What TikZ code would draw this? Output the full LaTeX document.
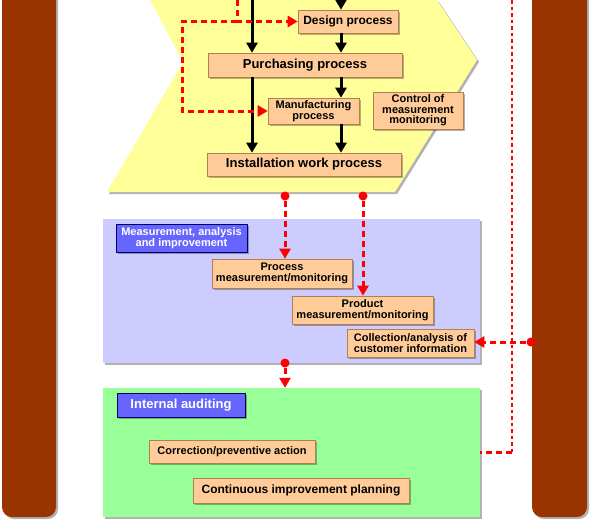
\documentclass[tikz,border=0pt]{standalone}
\usepackage{fontspec}
\setmainfont{Liberation Sans}
\usetikzlibrary{shadows,arrows.meta}
\definecolor{mybrown}{HTML}{993300}
\definecolor{myyellow}{HTML}{FFFF99}
\definecolor{mypeach}{HTML}{FFCC99}
\definecolor{myedge}{HTML}{B08050}
\definecolor{mylilac}{HTML}{CCCCFF}
\definecolor{mygreen}{HTML}{99FF99}
\definecolor{mytag}{HTML}{6666FF}
\def\boxfont{\fontsize{11}{10.5}\selectfont}
\def\midfont{\fontsize{12}{13}\selectfont}
\def\bigfont{\fontsize{13}{14}\selectfont}
\tikzset{
  shade/.style={drop shadow={shadow xshift=2pt, shadow yshift=-2pt, fill=black, opacity=0.3}},
  proc/.style={shade, fill=mypeach, draw=myedge, line width=0.6pt, inner sep=0pt,
    align=center, font=\bfseries\boxfont},
  tag/.style={shade, fill=mytag, draw=blue!40!black, line width=0.6pt, inner sep=0pt,
    align=center, text=white, font=\bfseries\boxfont},
  area/.style={shade, inner sep=0pt},
  flow/.style={-{Triangle[length=10pt,width=11pt]}, line width=3pt},
  link/.style={red, line width=3pt, dash pattern=on 6pt off 4pt},
  tip/.style={-{Triangle[length=10pt,width=11pt]}},
  dot/.style={circle, fill=red, inner sep=0pt, minimum size=9pt},
}
\begin{document}
\begin{tikzpicture}[x=1pt, y=-1pt]
  \useasboundingbox (0,0) rectangle (592,525);
  \fill[white] (0,0) rectangle (592,525);
  \fill[mybrown, rounded corners=10pt, shade] (2,-20) rectangle (56,517);
  \fill[mybrown, rounded corners=10pt, shade] (532,-20) rectangle (587,517);
  \fill[myyellow, shade] (150,0) -- (183,62) -- (107,192) -- (395,192) -- (477,60) -- (437,0) -- cycle;

  \node[area, fill=mylilac, minimum width=377pt, minimum height=144pt] (blu) at (291.5,291) {};
  \node[area, fill=mygreen, minimum width=377pt, minimum height=129pt] (grn) at (291.5,452.5) {};

  \node[proc, font=\bfseries\midfont, minimum width=100pt, minimum height=23pt] (design) at (348,21.5) {Design process};
  \node[proc, font=\bfseries\bigfont, minimum width=194pt, minimum height=24pt] (purch) at (305,65) {Purchasing process};
  \node[proc, minimum width=91pt, minimum height=26pt] (manu) at (313.5,111) {Manufacturing\\process};
  \node[proc, minimum width=90pt, minimum height=37pt] (ctrl) at (418,110.5) {Control of\\measurement\\monitoring};
  \node[proc, font=\bfseries\bigfont, minimum width=194pt, minimum height=23pt] (inst) at (304,164.5) {Installation work process};

  \node[tag, minimum width=131pt, minimum height=28pt] (mai) at (181.5,238) {Measurement, analysis\\and improvement};
  \node[proc, minimum width=140pt, minimum height=29pt] (procm) at (282,273.5) {Process\\measurement/monitoring};
  \node[proc, minimum width=141pt, minimum height=28pt] (prodm) at (362.5,310) {Product\\measurement/monitoring};
  \node[proc, minimum width=127pt, minimum height=28pt] (coll) at (410.5,343) {Collection/analysis of\\customer information};

  \node[tag, font=\bfseries\bigfont, minimum width=128pt, minimum height=24pt] (audit) at (181,405) {Internal auditing};
  \node[proc, minimum width=166pt, minimum height=23pt] (corr) at (232,451.5) {Correction/preventive action};
  \node[proc, font=\bfseries\midfont, minimum width=216pt, minimum height=25pt] (cont) at (301,490.5) {Continuous improvement planning};

  \coordinate (cola) at (252,0);
  \coordinate (colb) at (341,0);
  \draw[flow] (cola) -- (cola |- purch.north);
  \draw[flow] (cola |- purch.south) -- (cola |- inst.north);
  \draw[flow] (colb) -- (colb |- design.north);
  \draw[flow] (colb |- design.south) -- (colb |- purch.north);
  \draw[flow] (colb |- purch.south) -- (colb |- manu.north);
  \draw[flow] (colb |- manu.south) -- (colb |- inst.north);

  \coordinate (topr) at (237,0);
  \coordinate (lft) at (182,0);
  \draw[link, tip] (topr) |- (design.west);
  \draw[link, tip] (topr |- design.west) -- (lft |- design.west) -- (lft |- manu.west) -- (manu.west);

  \node[dot] (d1) at (285,196) {};
  \node[dot] (d2) at (363,196) {};
  \node[dot] (d3) at (531,342) {};
  \node[dot] (d4) at (285,363) {};
  \draw[link, tip] (d1) -- (d1 |- procm.north);
  \draw[link, tip] (d2) -- (d2 |- prodm.north);
  \draw[link, tip] (d3) -- (d3 -| coll.east);
  \draw[link, tip] (d4) -- (d4 |- grn.north);

  \coordinate (back) at (512,0);
  \draw[link, line width=2.6pt, dash pattern=on 3.5pt off 3pt] (back) -- (back |- grn.east);
  \draw[link] (back |- grn.east) -- (grn.east);
\end{tikzpicture}
\end{document}
